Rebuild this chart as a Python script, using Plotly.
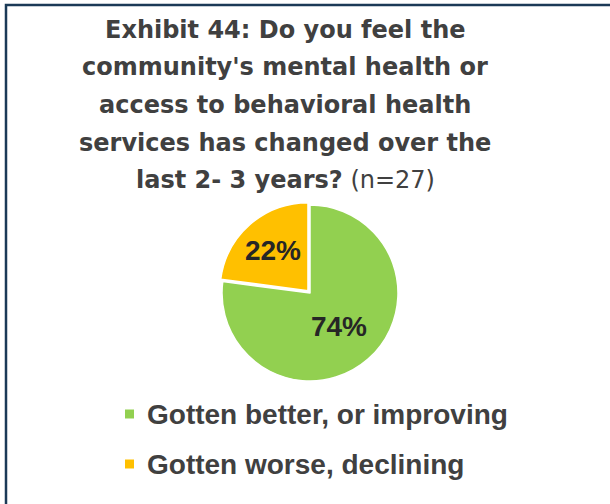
import plotly.graph_objects as go

# Survey responses (percent of respondents, n=27)
labels = ["Gotten better, or improving", "Gotten worse, declining"]
values = [74, 22]
colors = ["#92D050", "#FFC000"]
pull = [0, 0.035]

title_lines = [
    "<b>Exhibit 44: Do you feel the</b>",
    "<b>community's mental health or</b>",
    "<b>access to behavioral health</b>",
    "<b>services has changed over the</b>",
    "<b>last 2- 3 years?</b> (n=27)",
]

W, H = 610, 504
TITLE_FONT = "DejaVu Sans"
FONT = "Liberation Sans"
TEXT_COLOR = "#404040"

fig = go.Figure()

cx, cy, rad = 310, 293, 88
half = rad * (1 + max(pull))
fig.add_trace(go.Pie(
    labels=labels,
    values=values,
    sort=False,
    direction="clockwise",
    rotation=0,
    pull=pull,
    marker=dict(colors=colors, line=dict(color="white", width=1.5)),
    text=[f"{v}%" for v in values],
    textinfo="text",
    textposition="inside",
    insidetextorientation="horizontal",
    textfont=dict(family=FONT, size=28, color="#262626", weight="bold"),
    showlegend=False,
    hoverinfo="label+text",
    domain=dict(
        x=[(cx - half) / W, (cx + half) / W],
        y=[(H - cy - half) / H, (H - cy + half) / H],
    ),
))

annotations = []
# Title, one line per annotation
title_y0, title_dy = 30, 37.5
for i, line in enumerate(title_lines):
    annotations.append(dict(
        text=line, x=285 / W, y=1 - (title_y0 + i * title_dy) / H,
        xref="paper", yref="paper", xanchor="center", yanchor="middle",
        showarrow=False, font=dict(family=TITLE_FONT, size=24, color=TEXT_COLOR),
    ))

# Legend: colour square plus bold label per slice
shapes = []
leg_y0, leg_dy = 414, 50
sq = 9
for i, (lab, col) in enumerate(zip(labels, colors)):
    y = leg_y0 + i * leg_dy
    shapes.append(dict(
        type="rect", xref="paper", yref="paper",
        x0=125 / W, x1=(125 + sq) / W,
        y0=1 - (y + sq / 2) / H, y1=1 - (y - sq / 2) / H,
        fillcolor=col, line=dict(width=0),
    ))
    annotations.append(dict(
        text=f"<b>{lab}</b>", x=145 / W, y=1 - y / H,
        xref="paper", yref="paper", xanchor="left", yanchor="middle",
        showarrow=False, font=dict(family=FONT, size=28, color=TEXT_COLOR),
    ))

# Chart-area frame (open at the right and bottom edges)
shapes.append(dict(
    type="rect", xref="paper", yref="paper",
    x0=6 / W, x1=(W + 20) / W, y0=-0.1, y1=1 - 5 / H,
    line=dict(color="#1B3A57", width=2.5), fillcolor="rgba(0,0,0,0)",
))

fig.update_layout(
    width=W, height=H,
    margin=dict(l=0, r=0, t=0, b=0),
    paper_bgcolor="white",
    plot_bgcolor="white",
    annotations=annotations,
    shapes=shapes,
)

fig.write_html("out.html")
